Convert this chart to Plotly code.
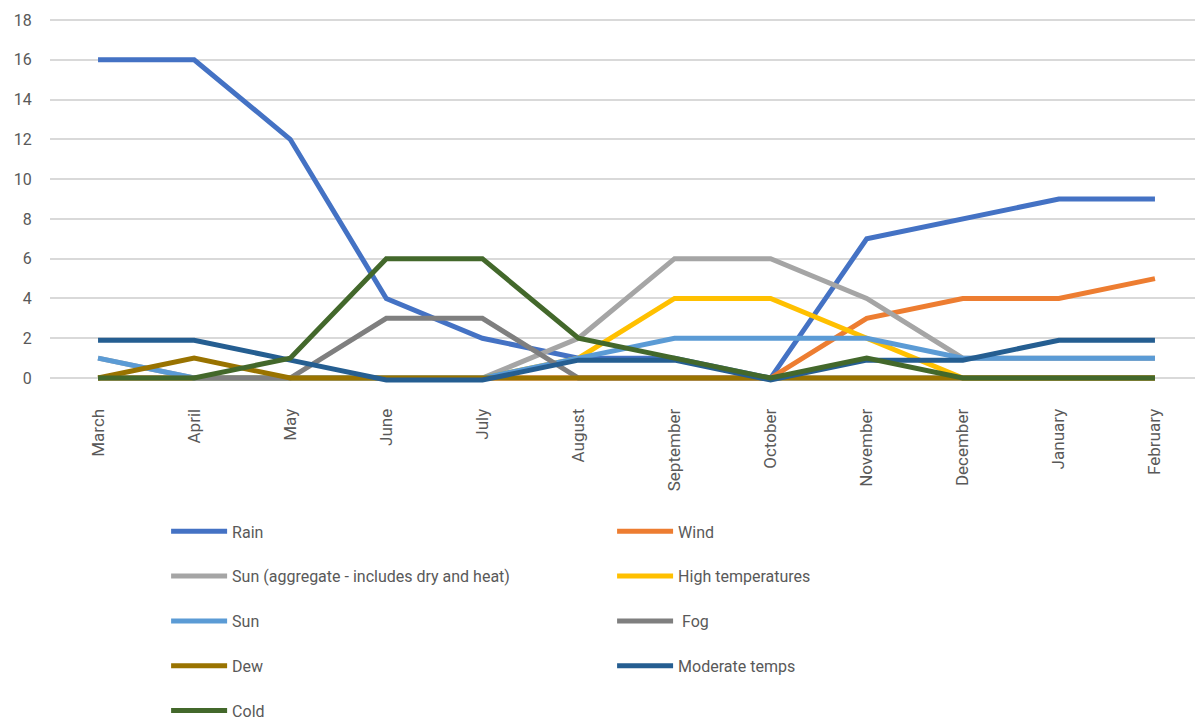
import plotly.graph_objects as go

months = ["March", "April", "May", "June", "July", "August", "September",
          "October", "November", "December", "January", "February"]

rain = [16, 16, 12, 4, 2, 1, 1, 0, 7, 8, 9, 9]
wind = [0, 0, 0, 0, 0, 0, 0, 0, 3, 4, 4, 5]
sun_agg = [1, 0, 0, 0, 0, 2, 6, 6, 4, 1, 1, 1]
high_temps = [0, 0, 0, 0, 0, 1, 4, 4, 2, 0, 0, 0]
sun = [1, 0, 0, 0, 0, 1, 2, 2, 2, 1, 1, 1]
fog = [0, 0, 0, 3, 3, 0, 0, 0, 0, 0, 0, 0]
dew = [0, 1, 0, 0, 0, 0, 0, 0, 0, 0, 0, 0]
moderate = [1.9, 1.9, 0.9, -0.1, -0.1, 0.9, 0.9, -0.1, 0.9, 0.9, 1.9, 1.9]
cold = [0, 0, 1, 6, 6, 2, 1, 0, 1, 0, 0, 0]

series = [
    ("Rain", rain, "#4472C4", "legend"),
    ("Wind", wind, "#ED7D31", "legend2"),
    ("Sun (aggregate - includes dry and heat)", sun_agg, "#A5A5A5", "legend"),
    ("High temperatures", high_temps, "#FFC000", "legend2"),
    ("Sun", sun, "#5B9BD5", "legend"),
    (" Fog", fog, "#7F7F7F", "legend2"),
    ("Dew", dew, "#997300", "legend"),
    ("Moderate temps", moderate, "#255E91", "legend2"),
    ("Cold", cold, "#43682B", "legend"),
]

FONT = "Roboto, Open Sans, sans-serif"
TXT = "#595959"

fig = go.Figure()
for name, vals, color, lg in series:
    fig.add_trace(go.Scatter(
        x=months, y=vals, mode="lines", name=name,
        line=dict(color=color, width=5),
        legend=lg, legendgroup=name,
    ))

fig.update_layout(
    width=1203, height=726,
    margin=dict(l=42, r=8, t=6, b=323),
    plot_bgcolor="white", paper_bgcolor="white",
    font=dict(family=FONT, color=TXT, size=17),
    xaxis=dict(
        type="category", range=[-0.5, 11.5], showgrid=False, showline=False,
        zeroline=False, tickangle=-90, ticks="outside", ticklen=13,
        tickcolor="rgba(0,0,0,0)", tickfont=dict(size=17, color=TXT),
    ),
    yaxis=dict(
        range=[-0.5, 18.3], tickvals=list(range(0, 19, 2)),
        showgrid=True, gridcolor="#D9D9D9", gridwidth=1.5,
        zeroline=False, showline=False, automargin=False,
        ticks="outside", ticklen=14, tickcolor="rgba(0,0,0,0)",
        tickfont=dict(size=16, color=TXT),
    ),
    legend=dict(
        x=0.1007, y=-0.338, xanchor="left", yanchor="top",
        orientation="v", tracegroupgap=21, bgcolor="rgba(0,0,0,0)",
        itemwidth=56, font=dict(size=16, color=TXT),
    ),
    legend2=dict(
        x=0.4875, y=-0.338, xanchor="left", yanchor="top",
        orientation="v", tracegroupgap=21, bgcolor="rgba(0,0,0,0)",
        itemwidth=56, font=dict(size=16, color=TXT),
    ),
)

fig.write_html("out.html")
